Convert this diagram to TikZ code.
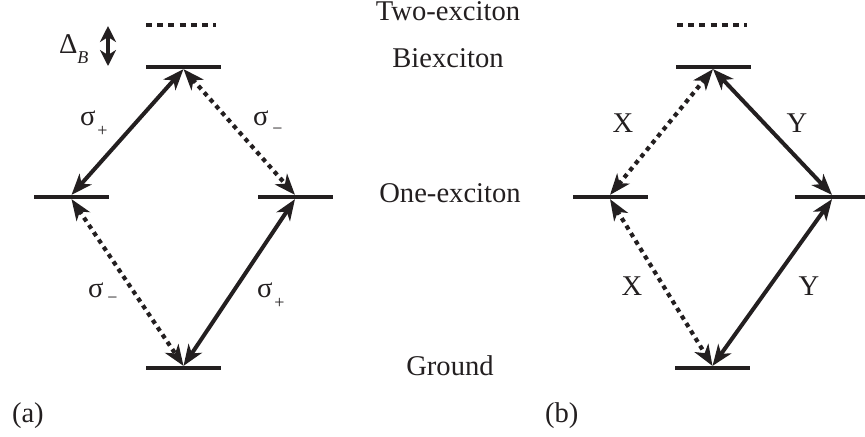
\documentclass[tikz,border=0pt]{standalone}
\usepackage{fontspec}
\setmainfont{Liberation Serif}
\usetikzlibrary{arrows.meta,calc}
\definecolor{ink}{HTML}{231F20}
\begin{document}
\begin{tikzpicture}[x=0.5pt,y=-0.5pt,
  every node/.style={inner sep=0pt,outer sep=0pt,text=ink,font=\fontsize{14.3pt}{17pt}\selectfont},
  level/.style={fill=ink,minimum height=2.1pt,minimum width=37.5pt,inner sep=0pt},
  twoex/.style={draw=ink,line width=2pt,dash pattern=on 3pt off 2.6pt},
  solidarr/.style={draw=ink,line width=2pt,{Stealth[length=10.5pt,width=8pt,inset=3pt]}-{Stealth[length=10.5pt,width=8pt,inset=3pt]}},
  dotarr/.style={draw=ink,line width=2.1pt,dash pattern=on 2.2pt off 2.2pt,{Stealth[length=10.5pt,width=8pt,inset=3pt]}-{Stealth[length=10.5pt,width=8pt,inset=3pt]}},
  lbl/.style={anchor=base west}
]
\useasboundingbox (0,0) rectangle (865,436);

% ---- panel (a) levels
\node[level] (Ba) at (183.5,67) {};
\node[level] (La) at (71.5,197) {};
\node[level] (Ra) at (295,197) {};
\node[level] (Ga) at (183.5,368) {};
\draw[twoex] (146,25) -- (216,25);

% ---- panel (b) levels
\node[level] (Bb) at (713,67) {};
\node[level] (Lb) at (610,197) {};
\node[level] (Rb) at (832,197) {};
\node[level] (Gb) at (712.5,368) {};
\draw[twoex] (677,25) -- (747,25);

% ---- Delta_B
\coordinate (dtop) at (108,26);
\coordinate (dbot) at (108,66);
\draw[draw=ink,line width=2pt,{Stealth[length=8pt,width=8pt,inset=2.5pt]}-{Stealth[length=8pt,width=8pt,inset=2.5pt]}] (dtop) -- (dbot);
\node[lbl] (delta) at (59,53) {Δ\raisebox{-5pt}{\fontsize{9pt}{10pt}\selectfont\itshape B}};

% ---- connectors (a)
\draw[solidarr] (La.north) -- (Ba.south);
\draw[dotarr] (Ba.south) -- (Ra.north);
\draw[dotarr] (La.south) -- (Ga.north);
\draw[solidarr] (Ra.south) -- (Ga.north);

% ---- connectors (b)
\draw[dotarr] (Lb.north) -- (Bb.south);
\draw[solidarr] (Bb.south) -- (Rb.north);
\draw[dotarr] (Lb.south) -- (Gb.north);
\draw[solidarr] (Rb.south) -- (Gb.north);

% ---- sigma labels
\node[lbl] (s1) at (80,125) {σ\kern1pt\raisebox{-5.5pt}{\fontsize{9pt}{10pt}\selectfont +}};
\node[lbl] (s2) at (253,125) {σ\kern2pt\raisebox{-4.5pt}{\fontsize{9pt}{10pt}\selectfont −}};
\node[lbl] (s3) at (88,297) {σ\kern2pt\raisebox{-3pt}{\fontsize{9pt}{10pt}\selectfont −}};
\node[lbl] (s4) at (257,297) {σ\kern1pt\raisebox{-5.5pt}{\fontsize{9pt}{10pt}\selectfont +}};

% ---- X / Y labels
\node[anchor=base] (x1) at (623,132) {X};
\node[anchor=base] (y1) at (797,132) {Y};
\node[anchor=base] (x2) at (632,295) {X};
\node[anchor=base] (y2) at (809,295) {Y};

% ---- level names
\node[anchor=base] (t1) at (448,20) {Two-exciton};
\node[anchor=base] (t2) at (448,67) {Biexciton};
\node[anchor=base] (t3) at (450,202) {One-exciton};
\node[anchor=base] (t4) at (450,375) {Ground};

% ---- panel tags
\node[lbl] (pa) at (12,422) {(a)};
\node[lbl] (pb) at (545,422) {(b)};
\end{tikzpicture}
\end{document}
